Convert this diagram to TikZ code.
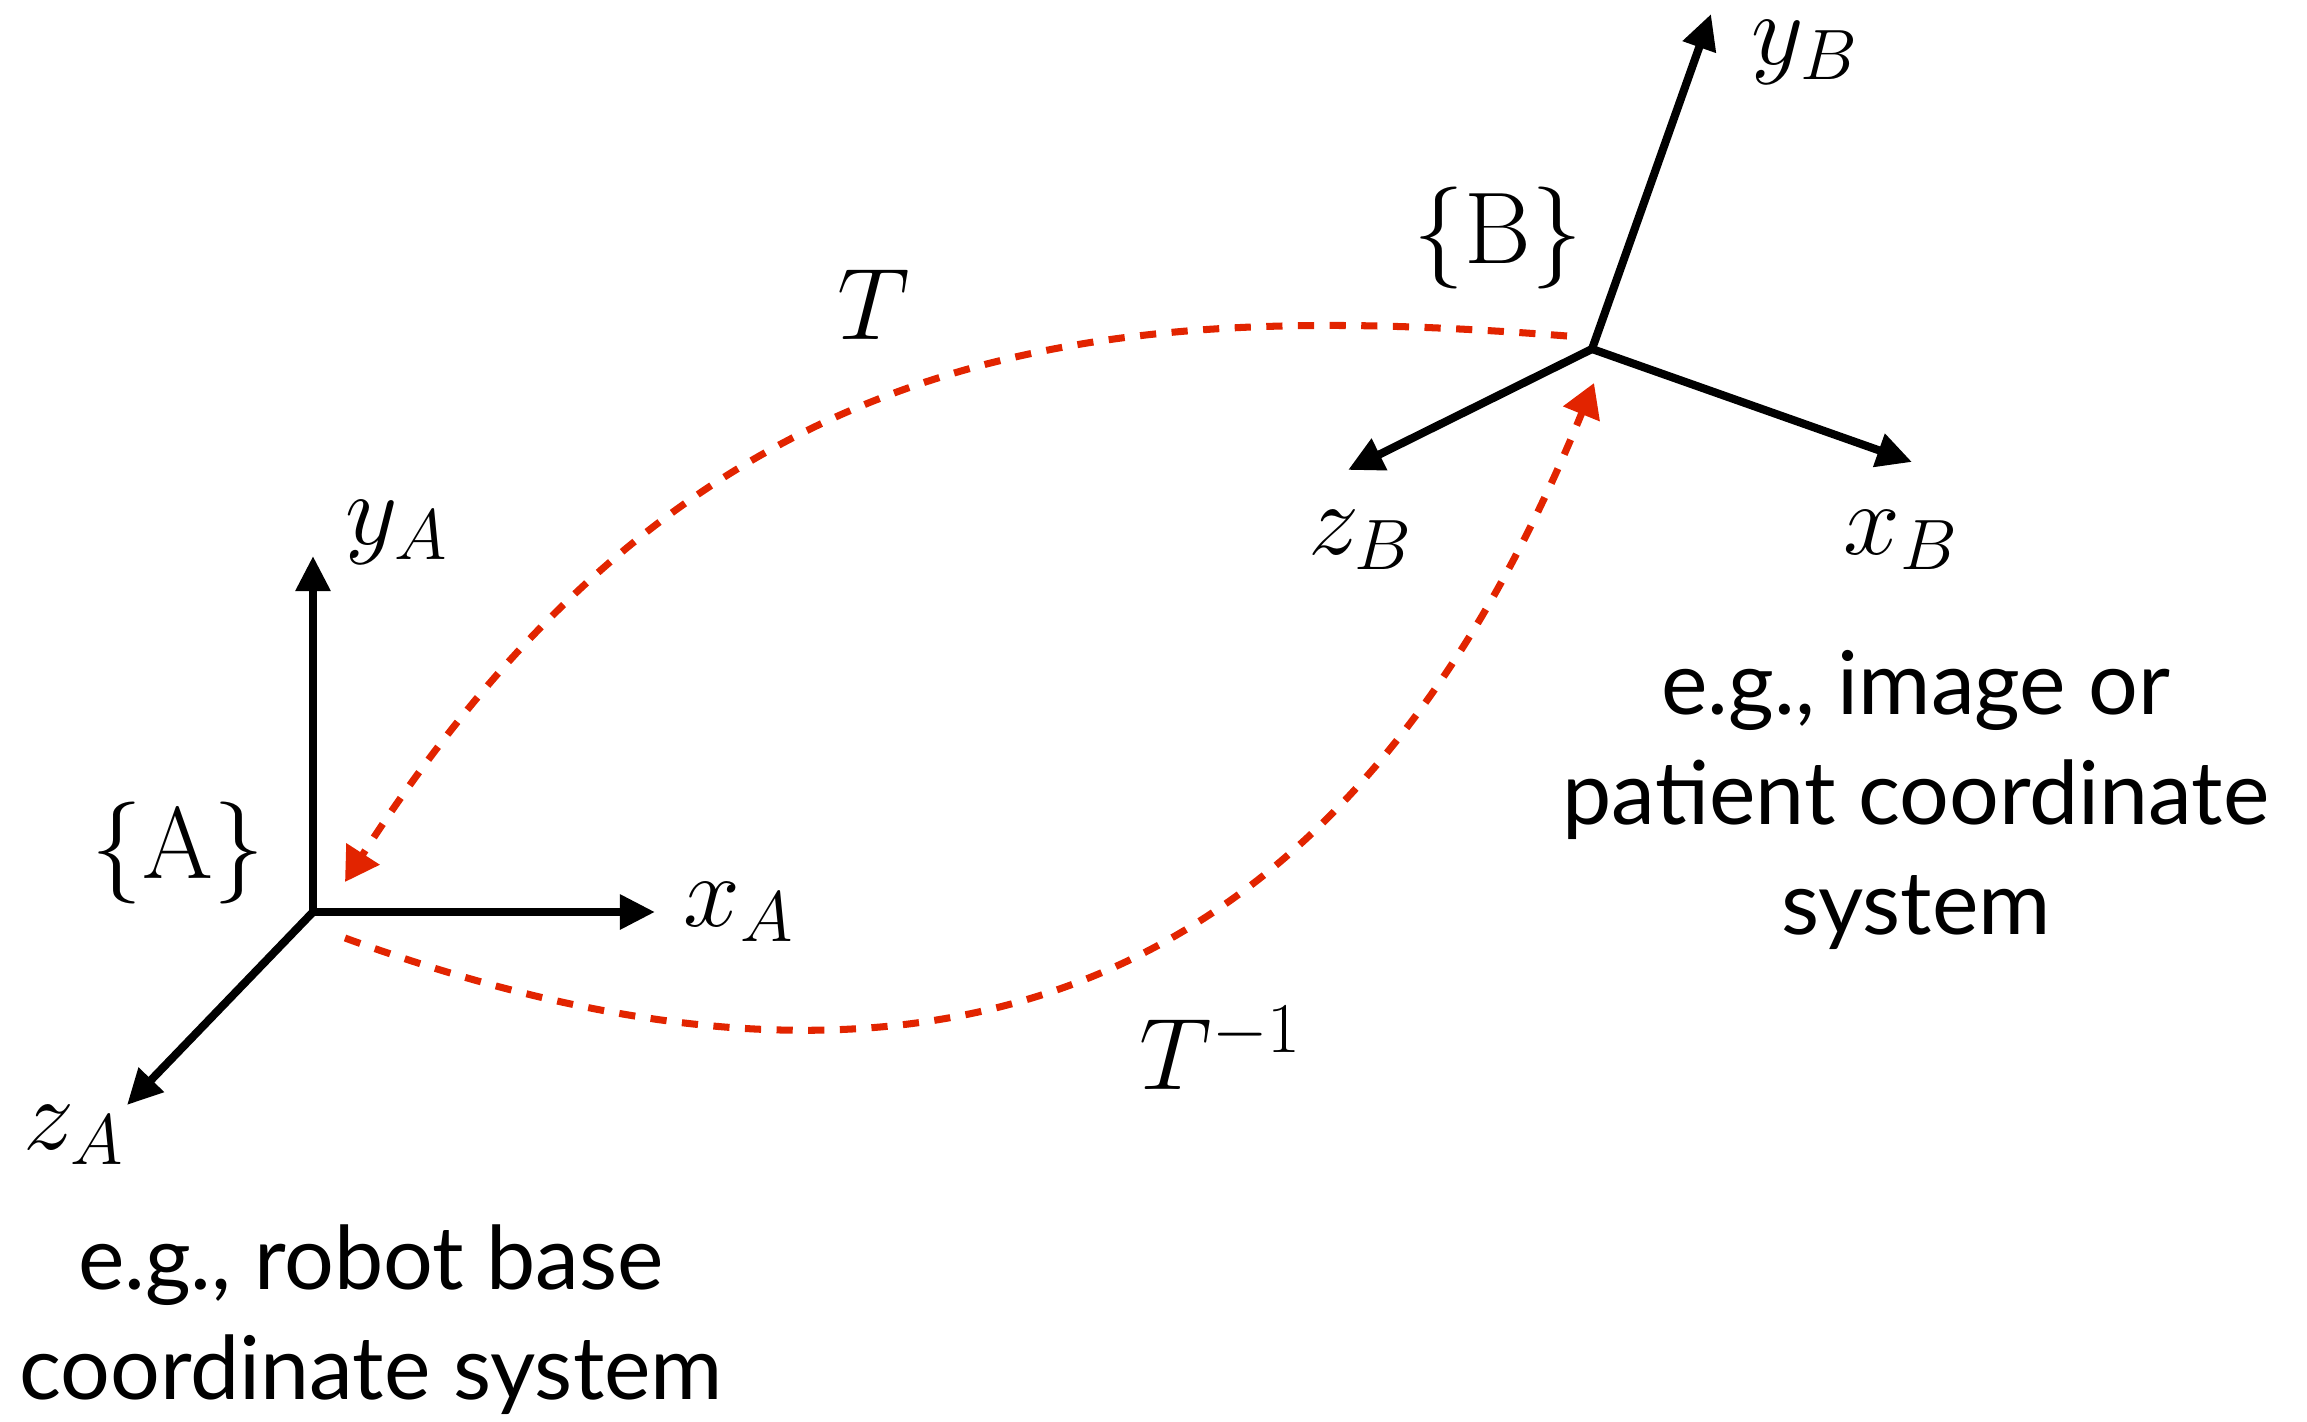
\documentclass[tikz,border=0pt]{standalone}
\usepackage{fix-cm}
\usepackage{fontspec}
\setsansfont{Lato}
\usepackage{xcolor}
\usepackage{tikz}
\usetikzlibrary{arrows.meta,positioning}
\definecolor{transred}{HTML}{E22400}

\begin{document}
\begin{tikzpicture}[x=0.01cm, y=-0.01cm,
  axis/.style={line width=2.3pt, -{Triangle[length=10pt,width=9.5pt]}},
  trans/.style={transred, line width=2pt, dash pattern=on 4.6pt off 4.4pt, -{Triangle[length=9.5pt,width=10.8pt]}},
  lbl/.style={font=\fontsize{29}{33}\selectfont, inner sep=0pt},
  note/.style={font=\sffamily\fontsize{25}{31.3}\selectfont, align=center, inner sep=0pt}]
  \useasboundingbox (0,0) rectangle (2307,1422);

  % frame A
  \coordinate (oA) at (313,912);
  \coordinate (xA) at (655,912);
  \coordinate (yA) at (313,556);
  \coordinate (zA) at (127,1105);
  \draw[axis] (oA) -- (xA);
  \draw[axis] (oA) -- (yA);
  \draw[axis] (oA) -- (zA);
  \node[lbl] (xAlbl) at (739,912) {$x_A$};
  \node[lbl] (yAlbl) at (397,532) {$y_A$};
  \node[lbl] (zAlbl) at (74,1135) {$z_A$};
  \node[lbl] (frameA) at (178,853) {$\{\mathrm{A}\}$};

  % frame B
  \coordinate (oB) at (1592,349);
  \coordinate (xB) at (1912,462);
  \coordinate (yB) at (1711,14);
  \coordinate (zB) at (1348,470);
  \draw[axis] (oB) -- (xB);
  \draw[axis] (oB) -- (yB);
  \draw[axis] (oB) -- (zB);
  \node[lbl] (xBlbl) at (1901,540) {$x_B$};
  \node[lbl] (yBlbl) at (1805,52) {$y_B$};
  \node[lbl] (zBlbl) at (1361,540) {$z_B$};
  \node[lbl] (frameB) at (1498,238) {$\{\mathrm{B}\}$};

  % transforms
  \coordinate (tStart) at (1567,336);
  \coordinate (tEnd) at (345,882);
  \coordinate (tiStart) at (345,938);
  \coordinate (tiEnd) at (1594,383);
  \draw[trans] (tStart) .. controls (1100,300) and (700,330) .. (tEnd);
  \draw[trans] (tiStart) .. controls (900,1140) and (1330,1030) .. (tiEnd);
  \node[lbl] (T) at (874,305) {$T$};
  \node[lbl] (Tinv) at (1221,1048) {$T^{-1}$};

  % notes
  \node[note] (noteA) at (371,1320) {e.g., robot base\\coordinate system};
  \node[note] (noteB) at (1916,800) {e.g., image or\\patient coordinate\\system};
\end{tikzpicture}
\end{document}
